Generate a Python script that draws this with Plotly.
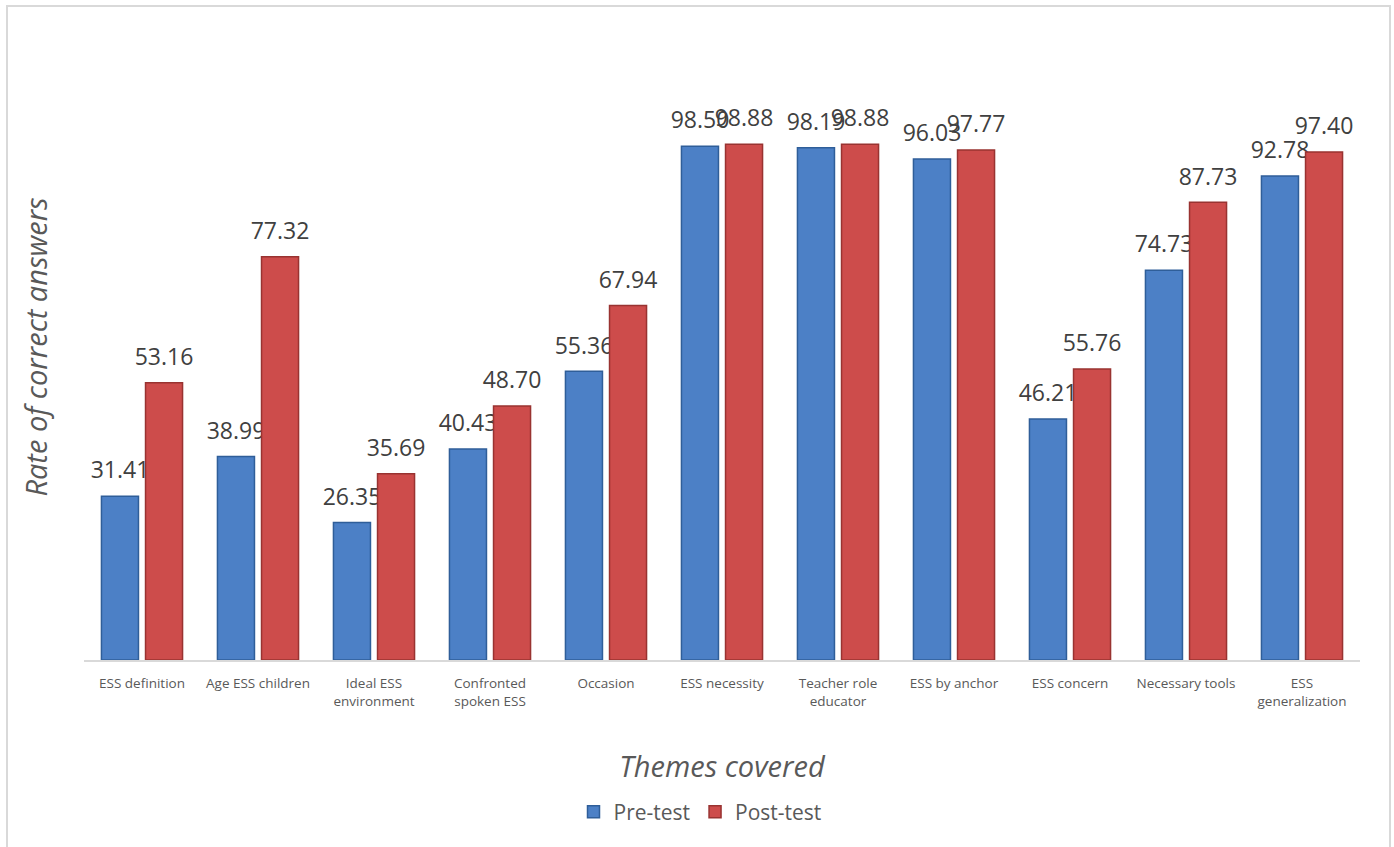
import plotly.graph_objects as go

categories = [
    "ESS definition", "Age ESS children", "Ideal ESS<br>environment",
    "Confronted<br>spoken ESS", "Occasion", "ESS necessity",
    "Teacher role<br>educator", "ESS by anchor", "ESS concern",
    "Necessary tools", "ESS<br>generalization",
]
pre_test = [31.41, 38.99, 26.35, 40.43, 55.36, 98.50, 98.19, 96.03, 46.21, 74.73, 92.78]
post_test = [53.16, 77.32, 35.69, 48.70, 67.94, 98.88, 98.88, 97.77, 55.76, 87.73, 97.40]

FONT = "Open Sans"
W, H = 1394, 847
ML, MR, MT, MB = 84, 34, 34, 187
PW, PH = W - ML - MR, H - MT - MB


def label(v):
    return f"<span style='font-size:23px'>{v:.2f}</span><br>&nbsp;"


fig = go.Figure()
fig.add_trace(go.Bar(
    name="Pre-test", x=categories, y=pre_test,
    marker=dict(color="#4c80c6", line=dict(color="#2f5e99", width=1.5)),
    text=[label(v) for v in pre_test], textposition="outside",
    constraintext="none", cliponaxis=False,
    textfont=dict(family=FONT, size=9, color="#404040"),
))
fig.add_trace(go.Bar(
    name="Post-test", x=categories, y=post_test,
    marker=dict(color="#cd4c4b", line=dict(color="#993331", width=1.5)),
    text=[label(v) for v in post_test], textposition="outside",
    constraintext="none", cliponaxis=False,
    textfont=dict(family=FONT, size=9, color="#404040"),
))


def px_x(p):
    return (p - ML) / PW


def px_y(p):
    return (H - MB - p) / PH


fig.add_shape(type="rect", xref="paper", yref="paper",
              x0=px_x(7), x1=px_x(1390), y0=px_y(850), y1=px_y(6),
              line=dict(color="#d9d9d9", width=2), fillcolor="rgba(0,0,0,0)",
              layer="below")

fig.update_layout(
    width=W, height=H,
    margin=dict(l=ML, r=MR, t=MT, b=MB, autoexpand=False),
    paper_bgcolor="white", plot_bgcolor="white",
    barmode="group", bargap=0.24, bargroupgap=0.16,
    font=dict(family=FONT, color="#595959"),
    showlegend=True,
    legend=dict(orientation="h", x=px_x(700), xanchor="center",
                y=px_y(812), yanchor="middle",
                font=dict(family=FONT, size=21, color="#595959"),
                itemwidth=30, traceorder="normal"),
    xaxis=dict(
        showline=True, linecolor="#d9d9d9", linewidth=2,
        showgrid=False, ticks="", automargin=False,
        ticklabelstandoff=10,
        tickfont=dict(family=FONT, size=13.5, color="#595959"),
        title=dict(text="Themes covered", standoff=48,
                   font=dict(family=FONT, size=29, color="#595959", style="italic")),
    ),
    yaxis=dict(
        range=[0, 120], showline=False, showgrid=False, zeroline=False,
        showticklabels=False, ticks="", automargin=False,
        title=dict(text="Rate of correct answers", standoff=26,
                   font=dict(family=FONT, size=29, color="#595959", style="italic")),
    ),
)

fig.write_html("out.html")
